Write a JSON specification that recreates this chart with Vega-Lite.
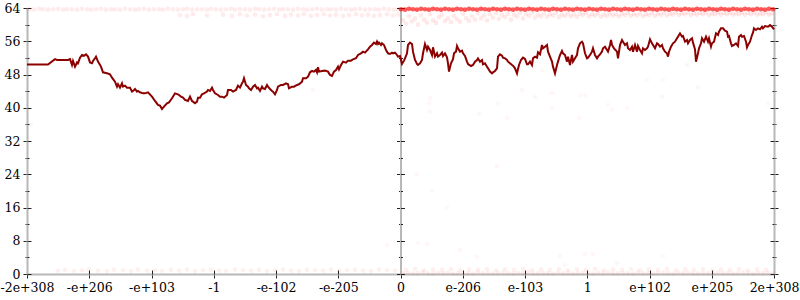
{
"$schema": "https://vega.github.io/schema/vega-lite/v6.json",
"width": 747, "height": 266,
"autosize": "none",
"padding": {"left": 27, "top": 8, "right": 26, "bottom": 26},
"background": "white",
"config": {"font": "DejaVu Serif", "view": {"stroke": null}, "axis": {"labelFont": "DejaVu Serif", "labelFontSize": 12.5, "labelColor": "#000", "tickColor": "#222", "tickWidth": 1, "domainColor": "#b8b8b8", "domainWidth": 2, "grid": false, "title": null}},
"datasets": {
"topL": [{"x":2,"y":63.7},{"x":7,"y":63.6},{"x":12,"y":63.8},{"x":16,"y":63.7},{"x":21,"y":63.6},{"x":26,"y":63.7},{"x":31,"y":63.8},{"x":36,"y":63.6},{"x":40,"y":63.7},{"x":45,"y":63.7},{"x":50,"y":63.6},{"x":55,"y":63.8},{"x":60,"y":63.7},{"x":64,"y":63.6},{"x":69,"y":63.7},{"x":74,"y":63.8},{"x":79,"y":63.6},{"x":84,"y":63.7},{"x":88,"y":63.7},{"x":93,"y":63.6},{"x":98,"y":63.8},{"x":103,"y":63.7},{"x":108,"y":63.6},{"x":112,"y":63.7},{"x":117,"y":63.8},{"x":122,"y":63.6},{"x":127,"y":63.7},{"x":132,"y":63.7},{"x":136,"y":63.6},{"x":141,"y":63.8},{"x":146,"y":63.7},{"x":151,"y":63.6},{"x":156,"y":63.7},{"x":160,"y":63.8},{"x":165,"y":63.6},{"x":170,"y":63.7},{"x":175,"y":63.7},{"x":180,"y":63.6},{"x":184,"y":63.8},{"x":189,"y":63.7},{"x":194,"y":63.6},{"x":199,"y":63.7},{"x":204,"y":63.8},{"x":208,"y":63.6},{"x":213,"y":63.7},{"x":218,"y":63.7},{"x":223,"y":63.6},{"x":228,"y":63.8},{"x":232,"y":63.7},{"x":237,"y":63.6},{"x":242,"y":63.7},{"x":247,"y":63.8},{"x":252,"y":63.6},{"x":256,"y":63.7},{"x":261,"y":63.7},{"x":266,"y":63.6},{"x":271,"y":63.8},{"x":276,"y":63.7},{"x":280,"y":63.6},{"x":285,"y":63.7},{"x":290,"y":63.8},{"x":295,"y":63.6},{"x":300,"y":63.7},{"x":304,"y":63.7},{"x":309,"y":63.6},{"x":314,"y":63.8},{"x":319,"y":63.7},{"x":324,"y":63.6},{"x":328,"y":63.7},{"x":333,"y":63.8},{"x":338,"y":63.6},{"x":343,"y":63.7},{"x":348,"y":63.7},{"x":352,"y":63.6},{"x":357,"y":63.8},{"x":362,"y":63.7},{"x":367,"y":63.6},{"x":371,"y":63.7},
{"x":153,"y":62.3},{"x":160,"y":62.1},{"x":166,"y":62.5},{"x":180,"y":62.2},{"x":196,"y":62.4},{"x":205,"y":62.1},{"x":213,"y":62.5},{"x":220,"y":62.2},{"x":228,"y":62.4},{"x":236,"y":62.0},{"x":243,"y":62.3},{"x":250,"y":62.5},{"x":258,"y":62.1},{"x":264,"y":62.4},{"x":271,"y":62.2},{"x":277,"y":62.5},{"x":284,"y":62.1},{"x":290,"y":62.3},{"x":297,"y":62.5},{"x":303,"y":62.2},{"x":309,"y":62.4},{"x":316,"y":62.1},{"x":322,"y":62.3},{"x":329,"y":62.5},{"x":335,"y":62.2},{"x":341,"y":62.4},{"x":347,"y":62.1},{"x":353,"y":62.3},{"x":360,"y":62.5},{"x":366,"y":62.2},{"x":371,"y":62.4}],
"bottom": [{"x":31,"y":0.8},{"x":38,"y":1.0},{"x":47,"y":0.7},{"x":55,"y":0.9},{"x":62,"y":1.1},{"x":71,"y":0.8},{"x":80,"y":0.7},{"x":87,"y":1.0},{"x":96,"y":0.9},{"x":104,"y":0.7},{"x":111,"y":1.1},{"x":120,"y":0.8},{"x":128,"y":0.9},{"x":135,"y":0.7},{"x":144,"y":1.0},{"x":152,"y":0.8},{"x":160,"y":1.1},{"x":168,"y":0.7},{"x":176,"y":0.9},{"x":184,"y":1.0},{"x":192,"y":0.8},{"x":199,"y":0.7},{"x":208,"y":1.1},{"x":216,"y":0.9},{"x":224,"y":0.8},{"x":232,"y":1.0},{"x":240,"y":0.7},{"x":248,"y":0.9},{"x":256,"y":1.1},{"x":264,"y":0.8},{"x":272,"y":0.7},{"x":280,"y":1.0},{"x":288,"y":0.9},{"x":296,"y":0.8},{"x":304,"y":1.1},{"x":312,"y":0.7},{"x":320,"y":0.9},{"x":328,"y":1.0},{"x":336,"y":0.8},{"x":344,"y":0.7},{"x":352,"y":1.1},{"x":360,"y":0.9},{"x":368,"y":0.8},
{"x":376,"y":0.2},{"x":381,"y":0.3},{"x":386,"y":0.1},{"x":391,"y":0.2},{"x":396,"y":0.4},{"x":401,"y":0.2},{"x":406,"y":0.1},{"x":411,"y":0.3},{"x":416,"y":0.2},{"x":421,"y":0.4},{"x":426,"y":0.1},{"x":431,"y":0.2},{"x":436,"y":0.3},{"x":441,"y":0.2},{"x":446,"y":0.1},{"x":451,"y":0.4},{"x":456,"y":0.2},{"x":461,"y":0.3},{"x":466,"y":0.1},{"x":471,"y":0.2},{"x":476,"y":0.4},{"x":481,"y":0.2},{"x":486,"y":0.1},{"x":491,"y":0.3},{"x":496,"y":0.2},{"x":501,"y":0.4},{"x":506,"y":0.1},{"x":511,"y":0.2},{"x":516,"y":0.3},{"x":521,"y":0.2},{"x":526,"y":0.1},{"x":531,"y":0.4},{"x":536,"y":0.2},{"x":541,"y":0.3},{"x":546,"y":0.1},{"x":551,"y":0.2},{"x":556,"y":0.4},{"x":561,"y":0.2},{"x":566,"y":0.1},{"x":571,"y":0.3},{"x":576,"y":0.2},{"x":581,"y":0.4},{"x":586,"y":0.1},{"x":591,"y":0.2},{"x":596,"y":0.3},{"x":601,"y":0.2},{"x":606,"y":0.1},{"x":611,"y":0.4},{"x":616,"y":0.2},{"x":621,"y":0.3},{"x":626,"y":0.1},{"x":631,"y":0.2},{"x":636,"y":0.4},{"x":641,"y":0.2},{"x":646,"y":0.1},{"x":651,"y":0.3},{"x":656,"y":0.2},{"x":661,"y":0.4},{"x":666,"y":0.1},{"x":671,"y":0.2},{"x":676,"y":0.3},{"x":681,"y":0.2},{"x":686,"y":0.1},{"x":691,"y":0.4},{"x":696,"y":0.2},{"x":701,"y":0.3},{"x":706,"y":0.1},{"x":711,"y":0.2},{"x":716,"y":0.4},{"x":721,"y":0.2},{"x":726,"y":0.1},{"x":731,"y":0.3},{"x":736,"y":0.2},{"x":741,"y":0.4},{"x":746,"y":0.2},
{"x":379,"y":1.0},{"x":388,"y":1.2},{"x":397,"y":0.9},{"x":406,"y":1.1},{"x":415,"y":1.0},{"x":424,"y":1.2},{"x":433,"y":0.9},{"x":442,"y":1.1},{"x":451,"y":1.0},{"x":460,"y":1.2},{"x":469,"y":0.9},{"x":478,"y":1.1},{"x":487,"y":1.0},{"x":496,"y":1.2},{"x":505,"y":0.9},{"x":514,"y":1.1},{"x":523,"y":1.0},{"x":532,"y":1.2},{"x":541,"y":0.9},{"x":550,"y":1.1},{"x":559,"y":1.0},{"x":568,"y":1.2},{"x":577,"y":0.9},{"x":586,"y":1.1},{"x":595,"y":1.0},{"x":604,"y":1.2},{"x":613,"y":0.9},{"x":622,"y":1.1},{"x":631,"y":1.0},{"x":640,"y":1.2},{"x":649,"y":0.9},{"x":658,"y":1.1},{"x":667,"y":1.0},{"x":676,"y":1.2},{"x":685,"y":0.9},{"x":694,"y":1.1},{"x":703,"y":1.0},{"x":712,"y":1.2},{"x":721,"y":0.9},{"x":730,"y":1.1},{"x":739,"y":1.0}],
"topR": [{"x":376,"y":61.0},{"x":379,"y":60.2},{"x":382,"y":62.0},{"x":385,"y":60.8},{"x":388,"y":61.5},{"x":391,"y":60.0},{"x":394,"y":62.3},{"x":397,"y":61.2},{"x":400,"y":60.5},{"x":403,"y":62.5},{"x":406,"y":61.0},{"x":409,"y":60.4},{"x":412,"y":61.8},{"x":415,"y":62.4},{"x":418,"y":60.9},{"x":421,"y":61.5},{"x":424,"y":60.6},{"x":427,"y":62.1},{"x":430,"y":61.3},{"x":433,"y":60.7},{"x":436,"y":62.6},{"x":439,"y":61.6},{"x":442,"y":60.9},{"x":445,"y":62.0},{"x":448,"y":61.2},{"x":451,"y":62.7},{"x":454,"y":61.5},{"x":457,"y":62.2},{"x":460,"y":61.0},{"x":463,"y":62.5},{"x":466,"y":61.7},{"x":469,"y":62.8},{"x":472,"y":61.4},{"x":475,"y":62.3},{"x":478,"y":61.8},{"x":481,"y":62.6},{"x":484,"y":61.2},{"x":487,"y":62.4},{"x":490,"y":62.0},{"x":493,"y":62.8},{"x":496,"y":61.5},{"x":499,"y":62.5},{"x":502,"y":62.1},{"x":505,"y":62.9},{"x":508,"y":61.7},{"x":511,"y":62.4},{"x":514,"y":62.0},{"x":517,"y":62.7},{"x":520,"y":61.9},{"x":523,"y":62.5},{"x":526,"y":62.2},{"x":529,"y":62.8},{"x":532,"y":61.8},{"x":535,"y":62.4},{"x":538,"y":62.1},{"x":541,"y":62.7},{"x":544,"y":62.0},{"x":547,"y":62.5},{"x":550,"y":61.9},{"x":553,"y":62.6},{"x":556,"y":62.3},{"x":559,"y":62.8},{"x":562,"y":62.0},{"x":565,"y":62.5},{"x":568,"y":62.2},{"x":571,"y":62.7},{"x":574,"y":61.9},{"x":577,"y":62.4},{"x":580,"y":62.1},{"x":583,"y":62.7},{"x":586,"y":62.2},{"x":589,"y":62.5},{"x":592,"y":62.0},{"x":595,"y":62.6},{"x":598,"y":62.3},{"x":601,"y":62.8},{"x":604,"y":62.1},{"x":607,"y":62.5},{"x":610,"y":62.2},{"x":613,"y":62.7},{"x":616,"y":62.0},{"x":619,"y":62.5},{"x":622,"y":62.3},{"x":625,"y":62.8},{"x":628,"y":62.1},{"x":631,"y":62.6},{"x":634,"y":62.3},{"x":637,"y":62.8},{"x":640,"y":62.2},{"x":643,"y":62.6},{"x":646,"y":62.4},{"x":649,"y":62.9},{"x":652,"y":62.3},{"x":655,"y":62.7},{"x":658,"y":62.5},{"x":661,"y":62.9},{"x":664,"y":62.3},{"x":667,"y":62.7},{"x":670,"y":62.4},{"x":673,"y":62.8},{"x":676,"y":62.5},{"x":679,"y":62.9},{"x":682,"y":62.3},{"x":685,"y":62.7},{"x":688,"y":62.5},{"x":691,"y":62.9},{"x":694,"y":62.4},{"x":697,"y":62.8},{"x":700,"y":62.5},{"x":703,"y":62.9},{"x":706,"y":62.4},{"x":709,"y":62.7},{"x":712,"y":62.5},{"x":715,"y":62.9},{"x":718,"y":62.4},{"x":721,"y":62.8},{"x":724,"y":62.5},{"x":727,"y":62.9},{"x":730,"y":62.4},{"x":733,"y":62.7},{"x":736,"y":62.5},{"x":739,"y":62.9},{"x":742,"y":62.4},{"x":745,"y":62.7}],
"scatter": [{"x":4,"y":35.8},{"x":286,"y":44.3},{"x":360,"y":7.0},{"x":403,"y":42.3},{"x":402,"y":41.1},{"x":403,"y":39.0},{"x":452,"y":38.5},{"x":471,"y":41.0},{"x":480,"y":37.5},{"x":495,"y":44.3},{"x":508,"y":42.6},{"x":515,"y":49.0},{"x":525,"y":43.5},{"x":525,"y":40.0},{"x":553,"y":43.0},{"x":558,"y":43.0},{"x":552,"y":37.5},{"x":581,"y":40.7},{"x":585,"y":39.5},{"x":600,"y":40.0},{"x":620,"y":46.7},{"x":636,"y":46.7},{"x":635,"y":42.6},{"x":660,"y":50.3},{"x":671,"y":45.0},{"x":741,"y":41.1},{"x":391,"y":7.5},{"x":400,"y":7.2},{"x":433,"y":5.8},{"x":450,"y":4.1},{"x":533,"y":4.3},{"x":558,"y":4.8},{"x":566,"y":4.8},{"x":590,"y":2.6},{"x":636,"y":4.3},{"x":538,"y":2.2},{"x":405,"y":20.0},{"x":420,"y":16.0},{"x":470,"y":26.0},{"x":390,"y":24.0}],
"hot": [{"x":374,"y":63.7},{"x":378,"y":63.6},{"x":382,"y":63.8},{"x":386,"y":63.7},{"x":390,"y":63.6},{"x":394,"y":63.8},{"x":398,"y":63.7},{"x":402,"y":63.6},{"x":406,"y":63.8},{"x":410,"y":63.7},{"x":414,"y":63.6},{"x":418,"y":63.8},{"x":422,"y":63.7},{"x":426,"y":63.6},{"x":430,"y":63.8},{"x":434,"y":63.7},{"x":438,"y":63.6},{"x":442,"y":63.8},{"x":446,"y":63.7},{"x":450,"y":63.6},{"x":454,"y":63.8},{"x":458,"y":63.7},{"x":462,"y":63.6},{"x":466,"y":63.8},{"x":470,"y":63.7},{"x":474,"y":63.6},{"x":478,"y":63.8},{"x":482,"y":63.7},{"x":486,"y":63.6},{"x":490,"y":63.8},{"x":494,"y":63.7},{"x":498,"y":63.6},{"x":502,"y":63.8},{"x":506,"y":63.7},{"x":510,"y":63.6},{"x":514,"y":63.8},{"x":518,"y":63.7},{"x":522,"y":63.6},{"x":526,"y":63.8},{"x":530,"y":63.7},{"x":534,"y":63.6},{"x":538,"y":63.8},{"x":542,"y":63.7},{"x":546,"y":63.6},{"x":550,"y":63.8},{"x":554,"y":63.7},{"x":558,"y":63.6},{"x":562,"y":63.8},{"x":566,"y":63.7},{"x":570,"y":63.6},{"x":574,"y":63.8},{"x":578,"y":63.7},{"x":582,"y":63.6},{"x":586,"y":63.8},{"x":590,"y":63.7},{"x":594,"y":63.6},{"x":598,"y":63.8},{"x":602,"y":63.7},{"x":606,"y":63.6},{"x":610,"y":63.8},{"x":614,"y":63.7},{"x":618,"y":63.6},{"x":622,"y":63.8},{"x":626,"y":63.7},{"x":630,"y":63.6},{"x":634,"y":63.8},{"x":638,"y":63.7},{"x":642,"y":63.6},{"x":646,"y":63.8},{"x":650,"y":63.7},{"x":654,"y":63.6},{"x":658,"y":63.8},{"x":662,"y":63.7},{"x":666,"y":63.6},{"x":670,"y":63.8},{"x":674,"y":63.7},{"x":678,"y":63.6},{"x":682,"y":63.8},{"x":686,"y":63.7},{"x":690,"y":63.6},{"x":694,"y":63.8},{"x":698,"y":63.7},{"x":702,"y":63.6},{"x":706,"y":63.8},{"x":710,"y":63.7},{"x":714,"y":63.6},{"x":718,"y":63.8},{"x":722,"y":63.7},{"x":726,"y":63.6},{"x":730,"y":63.8},{"x":734,"y":63.7},{"x":738,"y":63.6},{"x":742,"y":63.8},{"x":746,"y":63.7}],
"line": [{"x":0,"y":50.4},{"x":21,"y":50.4},{"x":28,"y":51.7},{"x":30,"y":51.5},{"x":41,"y":51.5},{"x":43,"y":51.7},{"x":45,"y":50.3},{"x":46,"y":51.25},{"x":48,"y":49.9},{"x":50,"y":50.9},{"x":51,"y":50.7},{"x":53,"y":52.06},{"x":55,"y":52.7},{"x":57,"y":52.5},{"x":59,"y":52.86},{"x":61,"y":52.3},{"x":63,"y":50.9},{"x":65,"y":50.7},{"x":66,"y":51.25},{"x":68,"y":51.9},{"x":69,"y":52.3},{"x":71,"y":51.1},{"x":74,"y":49.9},{"x":76,"y":48.53},{"x":80,"y":48.29},{"x":83,"y":48.05},{"x":85,"y":47.24},{"x":88,"y":46.28},{"x":90,"y":45.08},{"x":91,"y":45.64},{"x":93,"y":44.84},{"x":95,"y":45.88},{"x":96,"y":45.08},{"x":98,"y":45.32},{"x":100,"y":44.84},{"x":103,"y":44.84},{"x":105,"y":43.88},{"x":106,"y":44.04},{"x":108,"y":44.52},{"x":110,"y":43.88},{"x":111,"y":44.04},{"x":113,"y":43.72},{"x":116,"y":43.47},{"x":118,"y":43.47},{"x":121,"y":43.72},{"x":125,"y":42.67},{"x":128,"y":41.63},{"x":131,"y":40.67},{"x":133,"y":40.5},{"x":135,"y":39.7},{"x":137,"y":40.27},{"x":140,"y":41.07},{"x":142,"y":41.3},{"x":145,"y":42.27},
{"x":148,"y":43.47},{"x":151,"y":43.23},{"x":154,"y":42.67},{"x":156,"y":42.43},{"x":158,"y":41.87},{"x":161,"y":41.63},{"x":163,"y":42.67},{"x":165,"y":41.63},{"x":166,"y":41.47},{"x":168,"y":41.07},{"x":170,"y":41.47},{"x":171,"y":42.43},{"x":173,"y":42.43},{"x":175,"y":43.23},{"x":177,"y":43.47},{"x":180,"y":43.88},{"x":181,"y":44.28},{"x":183,"y":44.04},{"x":185,"y":44.84},{"x":186,"y":44.28},{"x":188,"y":43.47},{"x":191,"y":43.07},{"x":193,"y":42.67},{"x":195,"y":42.67},{"x":197,"y":42.43},{"x":200,"y":43.07},{"x":201,"y":44.28},{"x":204,"y":44.28},{"x":206,"y":43.88},{"x":209,"y":44.28},{"x":211,"y":45.32},{"x":213,"y":44.84},{"x":215,"y":45.88},{"x":216,"y":46.28},{"x":217,"y":47.08},{"x":219,"y":45.48},{"x":221,"y":45.08},{"x":222,"y":44.68},{"x":224,"y":44.28},{"x":226,"y":45.08},{"x":228,"y":45.48},{"x":230,"y":44.68},{"x":231,"y":44.84},{"x":233,"y":44.04},{"x":235,"y":45.08},{"x":236,"y":44.68},{"x":238,"y":44.52},{"x":240,"y":45.48},{"x":241,"y":45.08},{"x":243,"y":44.52},{"x":245,"y":44.04},{"x":246,"y":43.88},{"x":248,"y":43.23},{"x":250,"y":44.28},{"x":251,"y":45.08},{"x":254,"y":45.48},{"x":256,"y":45.48},{"x":259,"y":45.88},{"x":261,"y":45.64},{"x":262,"y":44.68},{"x":265,"y":45.08},{"x":267,"y":45.08},{"x":270,"y":45.48},{"x":272,"y":45.64},{"x":275,"y":46.28},{"x":276,"y":47.08},{"x":279,"y":47.08},{"x":281,"y":47.48},{"x":283,"y":48.53},{"x":285,"y":48.85},{"x":287,"y":48.69},{"x":289,"y":49.09},{"x":290,"y":48.53},{"x":291,"y":49.73},{"x":292,"y":48.69},{"x":295,"y":48.85},
{"x":298,"y":48.93},{"x":301,"y":48.69},{"x":303,"y":47.89},{"x":305,"y":47.65},{"x":307,"y":48.69},{"x":309,"y":49.09},{"x":311,"y":49.89},{"x":312,"y":49.25},{"x":314,"y":50.29},{"x":316,"y":51.1},{"x":319,"y":50.85},{"x":321,"y":51.33},{"x":324,"y":51.33},{"x":326,"y":51.66},{"x":329,"y":51.9},{"x":331,"y":52.7},{"x":334,"y":53.1},{"x":336,"y":53.5},{"x":338,"y":53.26},{"x":341,"y":54.06},{"x":343,"y":54.7},{"x":345,"y":55.1},{"x":347,"y":55.67},{"x":349,"y":55.34},{"x":350,"y":55.91},{"x":351,"y":55.34},{"x":352,"y":55.67},{"x":354,"y":55.1},{"x":355,"y":55.5},{"x":357,"y":55.1},{"x":359,"y":53.9},{"x":361,"y":53.1},{"x":363,"y":52.94},{"x":365,"y":53.26},{"x":366,"y":53.1},{"x":368,"y":53.26},{"x":370,"y":52.7},{"x":371,"y":52.3},{"x":373,"y":52.46},{"x":374,"y":51.5},{"x":375,"y":50.53},{"x":377,"y":51.33},{"x":378,"y":51.9},{"x":380,"y":53.1},{"x":381,"y":55.1},{"x":383,"y":55.67},{"x":385,"y":55.34},{"x":386,"y":53.5},{"x":388,"y":51.5},{"x":390,"y":50.53},{"x":391,"y":50.29},{"x":393,"y":50.69},{"x":395,"y":51.5},{"x":396,"y":53.1},{"x":398,"y":55.34},{"x":400,"y":53.9},{"x":401,"y":54.7},{"x":403,"y":53.9},{"x":405,"y":52.7},{"x":406,"y":54.54},{"x":408,"y":52.3},{"x":410,"y":53.1},{"x":411,"y":52.3},{"x":413,"y":52.7},{"x":415,"y":53.26},{"x":416,"y":52.46},{"x":418,"y":53.1},{"x":420,"y":52.14},{"x":421,"y":50.69},{"x":422,"y":48.69},{"x":424,"y":50.69},{"x":426,"y":51.66},{"x":427,"y":53.1},{"x":429,"y":53.5},{"x":430,"y":54.86},{"x":431,"y":54.3},{"x":433,"y":53.5},{"x":435,"y":53.74},{"x":436,"y":53.1},{"x":438,"y":52.46},{"x":440,"y":51.1},{"x":441,"y":50.53},{"x":444,"y":50.05},{"x":446,"y":50.29},{"x":448,"y":51.1},
{"x":450,"y":51.49},{"x":451,"y":51.89},{"x":453,"y":51.09},{"x":455,"y":51.49},{"x":456,"y":50.45},{"x":458,"y":50.69},{"x":460,"y":49.89},{"x":461,"y":49.49},{"x":463,"y":48.69},{"x":465,"y":48.28},{"x":466,"y":48.52},{"x":468,"y":48.85},{"x":470,"y":49.49},{"x":471,"y":52.29},{"x":473,"y":52.86},{"x":475,"y":52.53},{"x":476,"y":52.05},{"x":478,"y":51.89},{"x":480,"y":51.49},{"x":481,"y":51.09},{"x":483,"y":50.69},{"x":485,"y":50.29},{"x":486,"y":50.13},{"x":488,"y":49.49},{"x":490,"y":48.28},{"x":491,"y":49.33},{"x":492,"y":50.29},{"x":494,"y":51.49},{"x":496,"y":52.05},{"x":498,"y":51.73},{"x":500,"y":50.45},{"x":501,"y":50.45},{"x":503,"y":51.09},{"x":505,"y":50.29},{"x":506,"y":51.89},{"x":508,"y":52.29},{"x":510,"y":52.05},{"x":511,"y":53.34},{"x":513,"y":52.86},{"x":515,"y":55.1},{"x":516,"y":54.3},{"x":518,"y":54.7},{"x":520,"y":55.1},{"x":521,"y":53.5},{"x":523,"y":52.29},{"x":525,"y":51.09},{"x":526,"y":49.89},{"x":528,"y":48.28},{"x":530,"y":50.29},{"x":531,"y":51.09},{"x":533,"y":52.69},{"x":535,"y":53.66},{"x":536,"y":53.1},{"x":538,"y":52.69},{"x":540,"y":51.09},{"x":541,"y":52.29},{"x":543,"y":50.29},{"x":545,"y":52.69},{"x":546,"y":51.09},{"x":548,"y":51.89},{"x":550,"y":52.69},{"x":551,"y":54.3},{"x":553,"y":55.5},{"x":555,"y":55.9},{"x":556,"y":55.5},{"x":558,"y":53.1},{"x":560,"y":51.89},{"x":561,"y":52.05},{"x":563,"y":52.69},{"x":565,"y":53.5},{"x":566,"y":54.3},{"x":568,"y":52.69},{"x":570,"y":51.89},{"x":571,"y":52.29},{"x":573,"y":52.86},{"x":575,"y":53.5},{"x":576,"y":54.3},{"x":578,"y":54.7},{"x":580,"y":53.9},{"x":581,"y":53.5},{"x":583,"y":55.1},{"x":584,"y":56.3},{"x":585,"y":55.1},{"x":587,"y":54.3},{"x":590,"y":53.5},{"x":591,"y":51.89},{"x":593,"y":55.1},{"x":595,"y":56.3},{"x":596,"y":55.9},{"x":598,"y":55.1},
{"x":600,"y":55.5},{"x":601,"y":54.3},{"x":603,"y":53.9},{"x":605,"y":54.7},{"x":606,"y":53.49},{"x":608,"y":55.1},{"x":610,"y":53.49},{"x":611,"y":54.86},{"x":613,"y":53.9},{"x":615,"y":53.09},{"x":616,"y":54.3},{"x":618,"y":53.9},{"x":620,"y":54.3},{"x":621,"y":54.7},{"x":623,"y":56.46},{"x":625,"y":55.5},{"x":626,"y":55.1},{"x":628,"y":54.3},{"x":630,"y":55.5},{"x":631,"y":55.34},{"x":633,"y":54.7},{"x":635,"y":55.1},{"x":636,"y":54.3},{"x":638,"y":53.49},{"x":640,"y":53.09},{"x":641,"y":52.29},{"x":642,"y":53.49},{"x":644,"y":54.7},{"x":646,"y":55.5},{"x":648,"y":55.9},{"x":650,"y":56.7},{"x":651,"y":57.1},{"x":653,"y":57.9},{"x":655,"y":57.1},{"x":656,"y":57.26},{"x":658,"y":55.9},{"x":660,"y":56.3},{"x":661,"y":55.5},{"x":663,"y":56.3},{"x":665,"y":56.7},{"x":666,"y":55.66},{"x":668,"y":54.06},{"x":669,"y":51.09},{"x":671,"y":53.09},{"x":672,"y":54.3},{"x":674,"y":55.5},{"x":675,"y":56.7},{"x":677,"y":55.9},{"x":679,"y":57.1},{"x":681,"y":55.9},{"x":682,"y":56.7},{"x":684,"y":54.7},{"x":685,"y":55.5},{"x":687,"y":55.9},{"x":689,"y":57.9},{"x":691,"y":57.5},{"x":692,"y":58.31},{"x":694,"y":59.11},{"x":696,"y":59.11},{"x":698,"y":58.55},{"x":700,"y":58.31},{"x":701,"y":57.1},{"x":702,"y":57.26},{"x":704,"y":55.5},{"x":705,"y":54.86},{"x":707,"y":55.1},{"x":709,"y":55.5},{"x":711,"y":54.86},{"x":712,"y":57.1},{"x":714,"y":57.5},{"x":715,"y":57.1},{"x":717,"y":57.26},{"x":719,"y":55.9},{"x":720,"y":54.54},{"x":721,"y":55.1},{"x":723,"y":55.9},{"x":725,"y":57.5},{"x":726,"y":58.07},{"x":727,"y":59.11},{"x":729,"y":58.71},{"x":731,"y":59.11},{"x":733,"y":58.87},{"x":735,"y":59.51},{"x":736,"y":59.11},{"x":738,"y":59.67},{"x":741,"y":59.51},{"x":743,"y":59.91},{"x":745,"y":59.51},{"x":747,"y":58.87}]
},
"resolve": {"axis": {"x": "independent", "y": "independent"}},
"layer": [
{"data": {"name": "topL"}, "mark": {"type": "circle", "color": "#ff0000", "opacity": 0.08, "size": 22},
 "encoding": {
  "x": {"field": "x", "type": "quantitative", "scale": {"domain": [0, 747], "nice": false, "zero": false},
        "axis": {"orient": "bottom", "values": [0, 62.25, 124.5, 186.75, 249, 311.25, 373.5, 435.75, 498, 560.25, 622.5, 684.75, 747], "labelExpr": "['-2e+308','-e+206','-e+103','-1','-e-102','-e-205','0','e-206','e-103','1','e+102','e+205','2e+308'][round(datum.value/62.25)]", "labelFont": "DejaVu Serif", "labelFontSize": 12.5, "tickSize": 4, "labelPadding": 3, "labelFlush": false, "labelOverlap": false, "domain": true}},
  "y": {"field": "y", "type": "quantitative", "scale": {"domain": [0, 64], "nice": false, "zero": false},
        "axis": {"orient": "left", "values": [0,4,8,12,16,20,24,28,32,36,40,44,48,52,56,60,64], "labelExpr": "datum.value % 8 === 0 ? datum.label : ''", "labelFont": "DejaVu Serif", "labelFontSize": 12.5, "tickSize": {"condition": {"test": "datum.value % 8 === 0", "value": 4}, "value": 2}, "labelPadding": 3, "domain": true}}
 }},
{"data": {"name": "bottom"}, "mark": {"type": "circle", "color": "#ff0000", "opacity": 0.06, "size": 22},
 "encoding": {
  "x": {"field": "x", "type": "quantitative", "scale": {"domain": [0, 747], "nice": false, "zero": false},
        "axis": {"orient": "bottom", "values": [0, 62.25, 124.5, 186.75, 249, 311.25, 373.5, 435.75, 498, 560.25, 622.5, 684.75, 747], "labels": false, "tickSize": -4, "domain": false}},
  "y": {"field": "y", "type": "quantitative", "scale": {"domain": [0, 64], "nice": false, "zero": false},
        "axis": {"orient": "left", "values": [0,4,8,12,16,20,24,28,32,36,40,44,48,52,56,60,64], "labels": false, "tickSize": {"condition": {"test": "datum.value % 8 === 0", "value": -4}, "value": -2}, "domain": false}}
 }},
{"data": {"name": "topR"}, "mark": {"type": "circle", "color": "#ff0000", "opacity": 0.09, "size": 22},
 "encoding": {
  "x": {"field": "x", "type": "quantitative", "scale": {"domain": [0, 747], "nice": false, "zero": false}, "axis": null},
  "y": {"field": "y", "type": "quantitative", "scale": {"domain": [0, 64], "nice": false, "zero": false},
        "axis": {"orient": "right", "values": [0,4,8,12,16,20,24,28,32,36,40,44,48,52,56,60,64], "labels": false, "tickSize": {"condition": {"test": "datum.value % 8 === 0", "value": 4}, "value": 2}, "domain": true}}
 }},
{"data": {"name": "scatter"}, "mark": {"type": "circle", "color": "#ff0000", "opacity": 0.03, "size": 22},
 "encoding": {
  "x": {"field": "x", "type": "quantitative", "scale": {"domain": [0, 747], "nice": false, "zero": false}, "axis": null},
  "y": {"field": "y", "type": "quantitative", "scale": {"domain": [0, 64], "nice": false, "zero": false},
        "axis": {"orient": "right", "values": [0,4,8,12,16,20,24,28,32,36,40,44,48,52,56,60,64], "labels": false, "tickSize": {"condition": {"test": "datum.value % 8 === 0", "value": -4}, "value": -2}, "domain": false}}
 }},
{"data": {"name": "hot"}, "mark": {"type": "circle", "color": "#ff0000", "opacity": 0.65, "size": 22},
 "encoding": {
  "x": {"field": "x", "type": "quantitative", "scale": {"domain": [0, 747], "nice": false, "zero": false}, "axis": null},
  "y": {"field": "y", "type": "quantitative", "scale": {"domain": [0, 64], "nice": false, "zero": false},
        "axis": {"orient": "left", "offset": -373.5, "values": [0,4,8,12,16,20,24,28,32,36,40,44,48,52,56,60,64], "labels": false, "tickSize": {"condition": {"test": "datum.value % 8 === 0", "value": 4}, "value": 2}, "domain": true}}
 }},
{"data": {"name": "line"}, "mark": {"type": "line", "color": "#8b0000", "strokeWidth": 2},
 "encoding": {
  "x": {"field": "x", "type": "quantitative", "scale": {"domain": [0, 747], "nice": false, "zero": false}, "axis": null},
  "y": {"field": "y", "type": "quantitative", "scale": {"domain": [0, 64], "nice": false, "zero": false},
        "axis": {"orient": "left", "offset": -373.5, "values": [0,4,8,12,16,20,24,28,32,36,40,44,48,52,56,60,64], "labels": false, "tickSize": {"condition": {"test": "datum.value % 8 === 0", "value": -4}, "value": -2}, "domain": false}}
 }}
]
}
